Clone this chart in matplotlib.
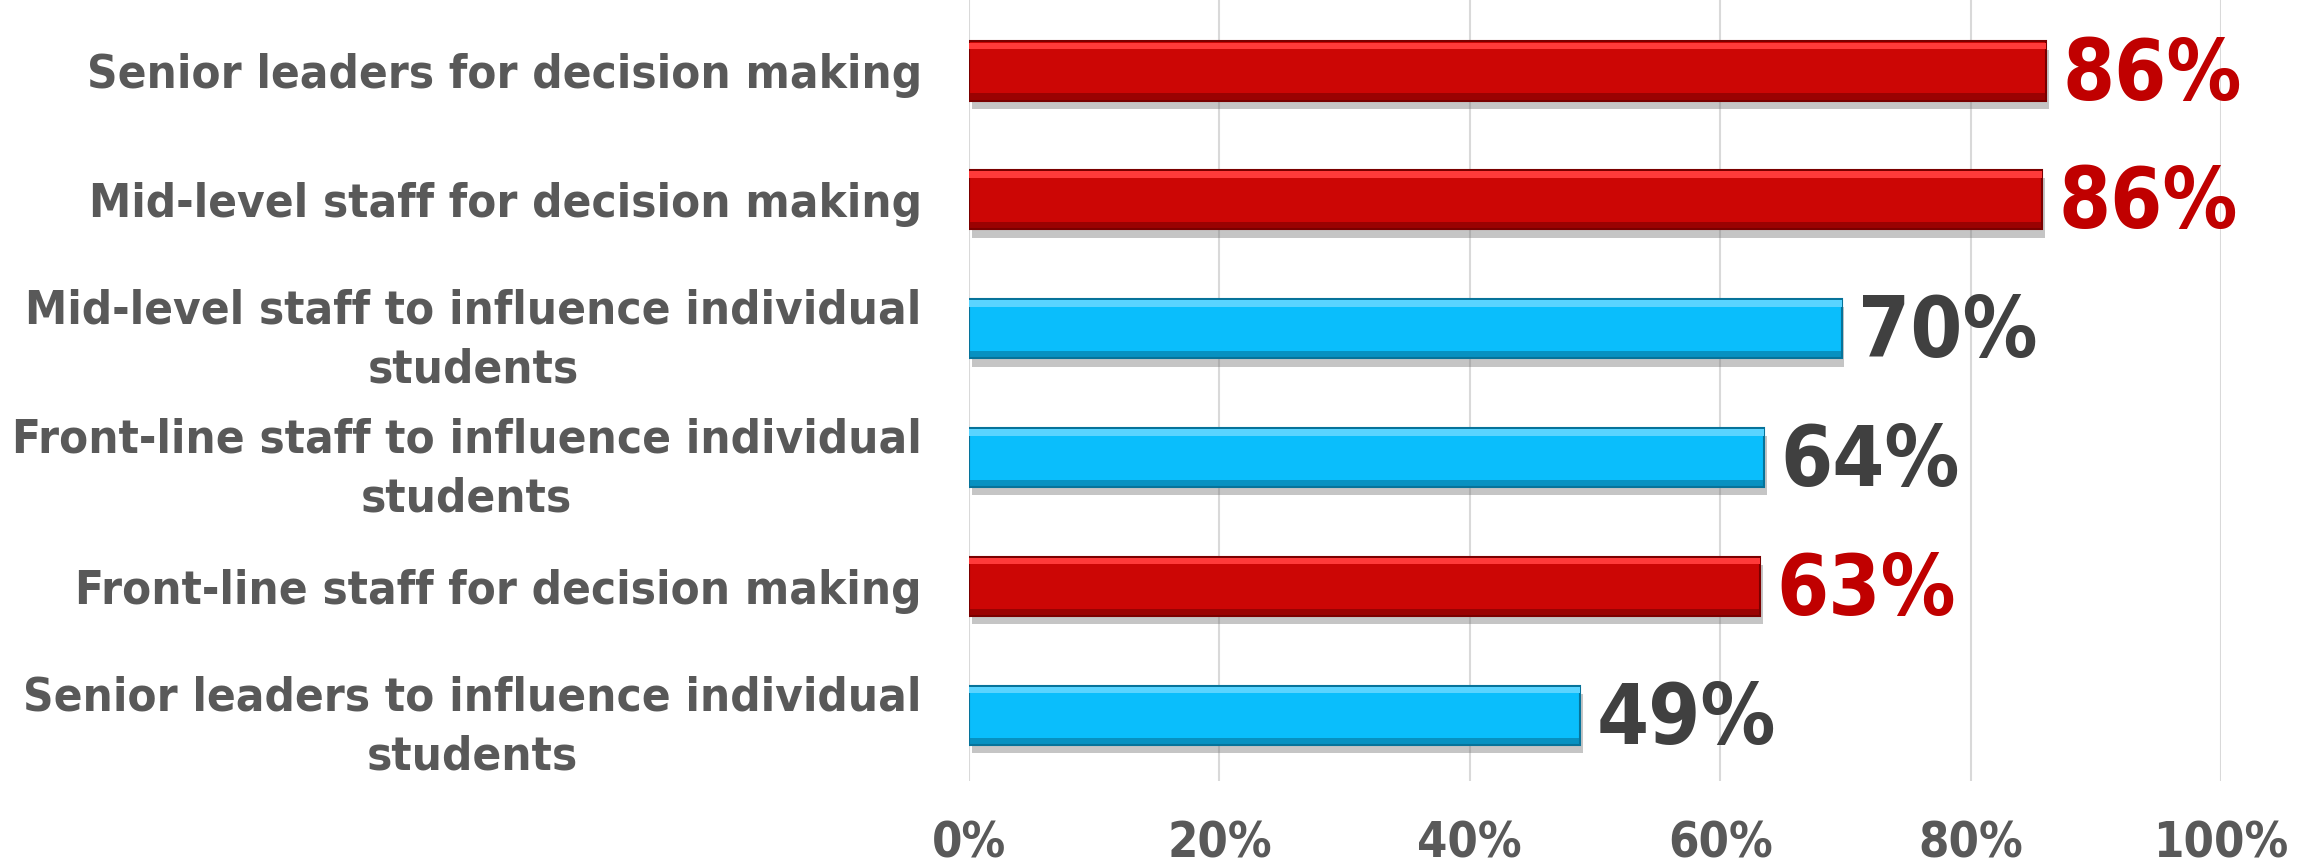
import matplotlib.pyplot as plt
import matplotlib.patheffects as pe
from matplotlib import font_manager

# Survey results: who uses data, and for what
categories = [
    "Senior leaders for decision making",
    "Mid-level staff for decision making",
    "Mid-level staff to influence individual\nstudents",
    "Front-line staff to influence individual\nstudents",
    "Front-line staff for decision making",
    "Senior leaders to influence individual\nstudents",
]
values = [86.0, 85.7, 69.7, 63.5, 63.2, 48.8]
labels = ["86%", "86%", "70%", "64%", "63%", "49%"]
groups = ["decision", "decision", "influence", "influence", "decision", "influence"]
xticks = [0, 20, 40, 60, 80, 100]
xtick_labels = ["0%", "20%", "40%", "60%", "80%", "100%"]

bar_colors = {"decision": "#CC0605", "influence": "#0ABEFC"}
edge_colors = {"decision": "#7A0000", "influence": "#06739A"}
light_colors = {"decision": "#FF3A3A", "influence": "#5AD4FF"}
text_colors = {"decision": "#C00000", "influence": "#404040"}

# pick a condensed bold face if one is installed
names = {(f.name, f.stretch) for f in font_manager.fontManager.ttflist}
if ("DejaVu Sans", "condensed") in names or ("DejaVu Sans", 87.5) in names:
    font = dict(family="DejaVu Sans", stretch="condensed")
elif any(n == "Liberation Sans Narrow" for n, _ in names):
    font = dict(family="Liberation Sans Narrow")
else:
    font = dict(family="DejaVu Sans")

fig = plt.figure(figsize=(23.23, 8.67), dpi=100)
ax = fig.add_axes([0.4171, 0.0992, 0.5390, 0.9008])

ypos = list(range(len(categories)))
h = 0.46
cols = [bar_colors[g] for g in groups]
bars = ax.barh(ypos, values, height=h, color=cols,
               edgecolor=[edge_colors[g] for g in groups], linewidth=1.5, zorder=3)
for b in bars:
    b.set_path_effects([pe.SimplePatchShadow(offset=(2, -6), shadow_rgbFace="#707070", alpha=0.4),
                        pe.Normal()])
# bevel highlights
ax.barh([y - h / 2 + 0.035 for y in ypos], values, height=0.05,
        color=[light_colors[g] for g in groups], linewidth=0, zorder=4)
ax.barh([y + h / 2 - 0.03 for y in ypos], values, height=0.05,
        color=[edge_colors[g] for g in groups], alpha=0.6, linewidth=0, zorder=4)

for y, v, lab, g in zip(ypos, values, labels, groups):
    ax.text(v + 1.3, y + 0.04, lab, va="center", ha="left", fontsize=60,
            fontweight="bold", color=text_colors[g], **font)

ax.set_xlim(0, 100)
ax.set_ylim(5.51, -0.55)
ax.set_xticks(xticks)
ax.set_xticklabels(xtick_labels, fontsize=35, fontweight="bold", color="#595959", **font)
ax.set_yticks(ypos)
ax.set_yticklabels(categories, fontsize=34, fontweight="bold", color="#595959",
                   multialignment="center", linespacing=1.4, **font)
ax.tick_params(axis="y", length=0, pad=34)
ax.tick_params(axis="x", length=0, pad=28)
ax.grid(axis="x", color="#D9D9D9", linewidth=1.5, zorder=0)
for s in ax.spines.values():
    s.set_visible(False)

fig.savefig("out.png", dpi=100)
